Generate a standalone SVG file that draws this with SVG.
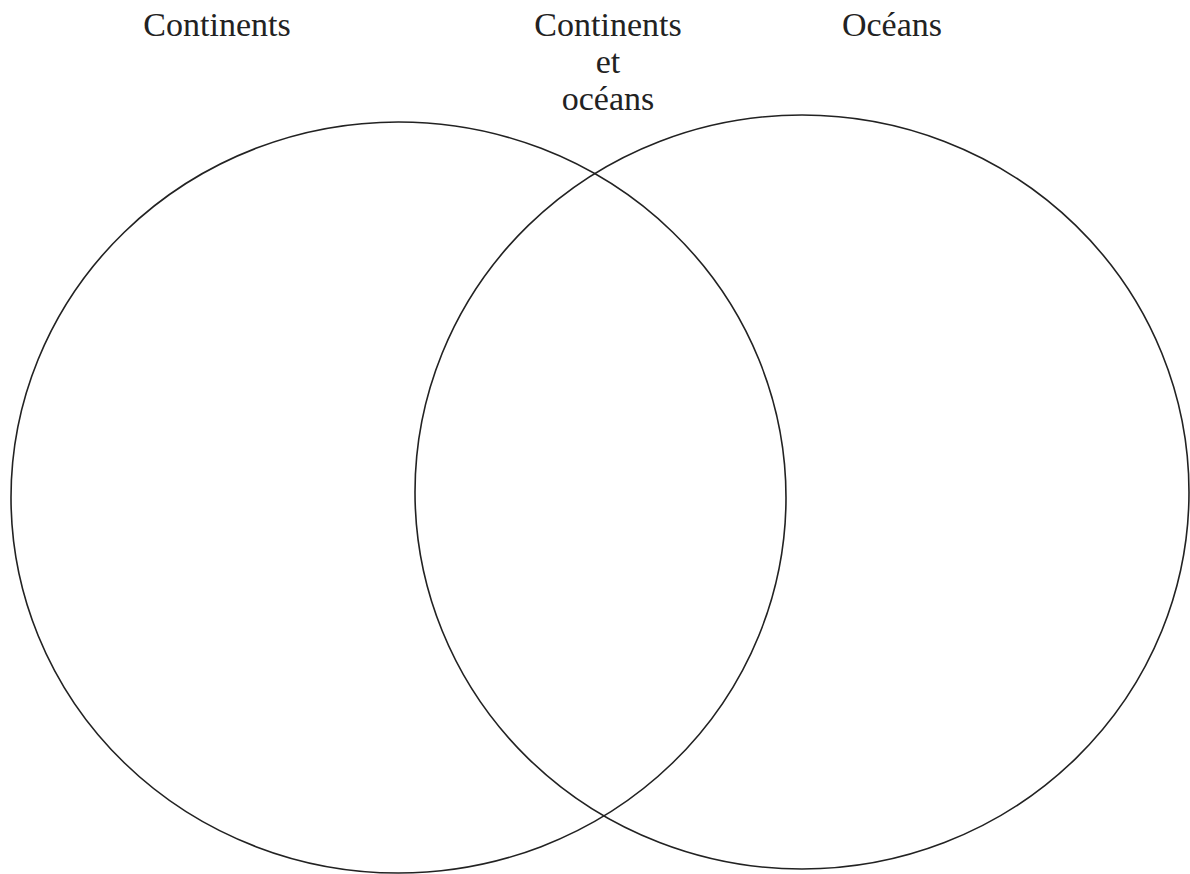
<svg xmlns="http://www.w3.org/2000/svg" width="1190" height="874" viewBox="0 0 1190 874">
<style>
.c{fill:none;stroke:#222;stroke-width:1.6}
.t{font-family:"Liberation Serif",serif;font-size:34px;fill:#222;text-anchor:middle}
</style>
<rect width="1190" height="874" fill="#fff"/>
<g id="left-circle"><ellipse class="c" cx="398.5" cy="497.5" rx="387.5" ry="375.5"/></g>
<g id="right-circle"><ellipse class="c" cx="802" cy="492" rx="387" ry="377"/></g>
<g id="labels">
<text class="t" x="217" y="36">Continents</text>
<text class="t" x="608" y="36">Continents</text>
<text class="t" x="608" y="73">et</text>
<text class="t" x="608" y="110">océans</text>
<text class="t" x="892" y="36">Océans</text>
</g>
</svg>
